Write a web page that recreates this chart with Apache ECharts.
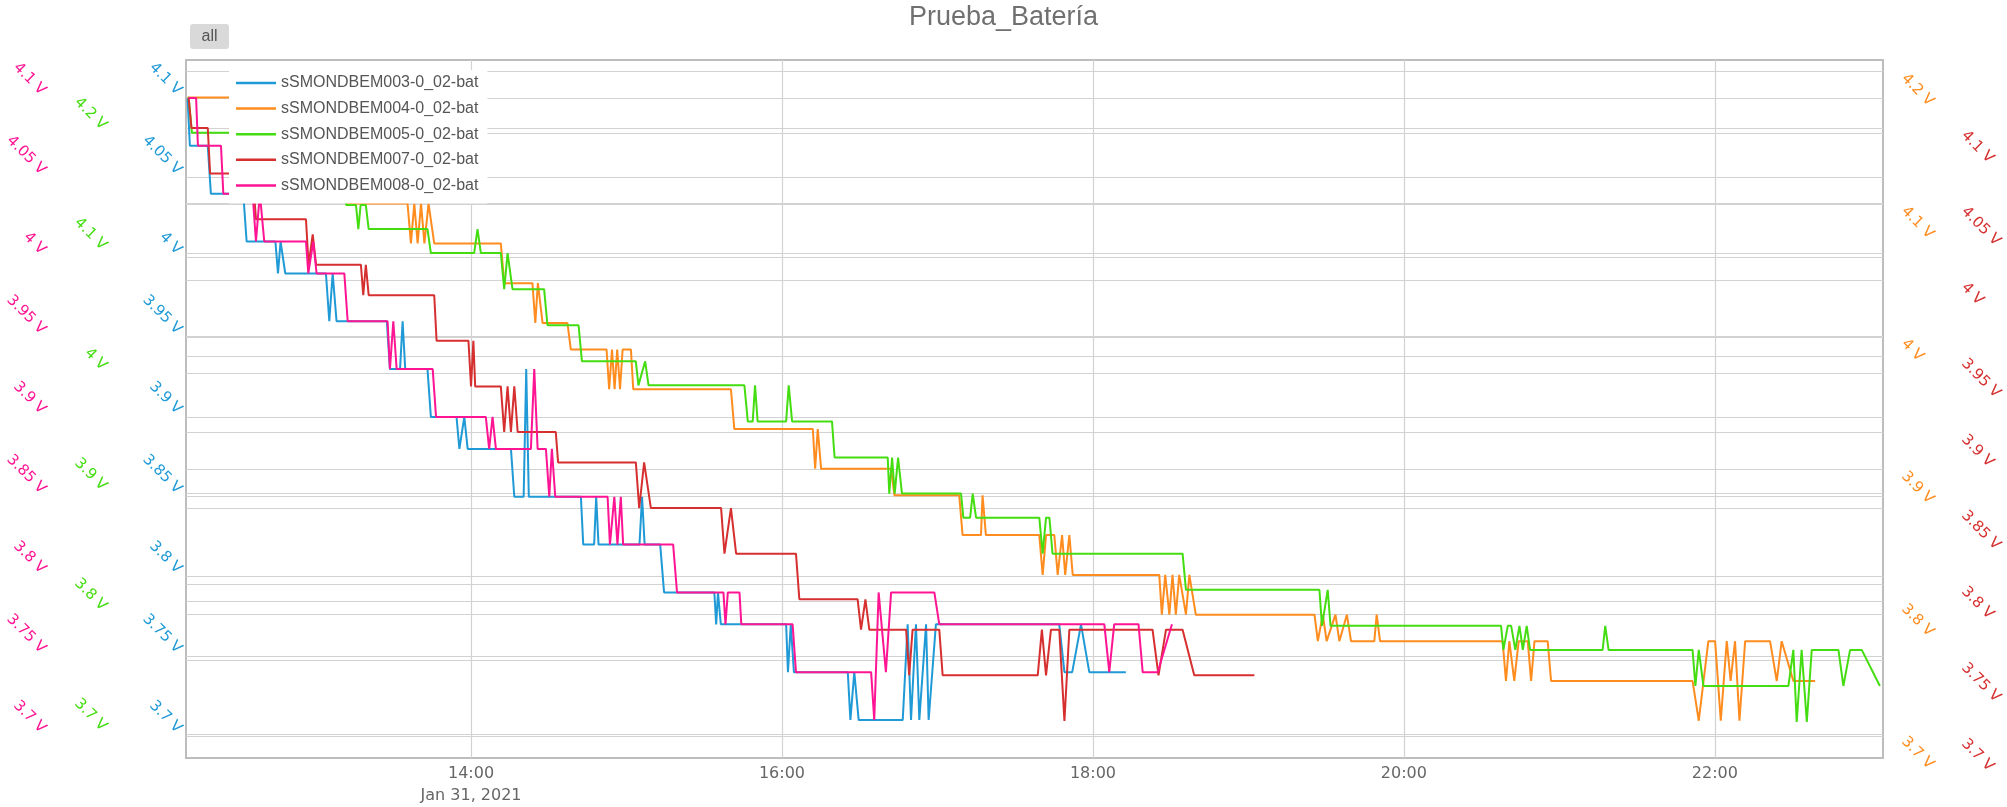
<!DOCTYPE html>
<html>
<head>
<meta charset="utf-8">
<title>Prueba_Batería</title>
<script src="https://cdn.jsdelivr.net/npm/echarts@6.0.0/dist/echarts.min.js"></script>
<style>
  html, body { margin: 0; padding: 0; background: #fff; }
  #chart { width: 2007px; height: 807px; }
</style>
</head>
<body>
<div id="chart"></div>
<script>
// time is in minutes after midnight (Jan 31, 2021), voltage in V
const names = ['sSMONDBEM003-0_02-bat', 'sSMONDBEM004-0_02-bat', 'sSMONDBEM005-0_02-bat',
               'sSMONDBEM007-0_02-bat', 'sSMONDBEM008-0_02-bat'];
const colors = ['#1f9ad6', '#ff8c1f', '#44dd11', '#d62f2f', '#ff1493'];

const bat003 = [[730.6,4.10],[731.5,4.07],[738.4,4.07],[739.6,4.04],[752.1,4.04],[753.4,4.01],[764.5,4.01],[765.5,3.99],
  [766.5,4.01],[768.3,3.99],[784.0,3.99],[785.3,3.96],[786.6,3.99],[788.1,3.96],[807.5,3.96],[808.7,3.93],[812.6,3.93],
  [813.6,3.96],[814.6,3.93],[823.2,3.93],[824.5,3.90],[834.4,3.90],[835.5,3.88],[837.4,3.90],[838.7,3.88],[855.4,3.88],
  [856.7,3.85],[860.3,3.85],[861.3,3.93],[862.3,3.85],[882.4,3.85],[883.3,3.82],[887.5,3.82],[888.3,3.85],[889.2,3.82],
  [905,3.82],[906,3.85],[907,3.82],[913,3.82],[914.5,3.79],[933.9,3.79],[934.6,3.77],[935.3,3.79],[936.4,3.77],
  [961.6,3.77],[962.3,3.74],[963.4,3.77],[964.6,3.74],[985.4,3.74],[986.4,3.71],[987.9,3.74],[989.6,3.71],[1006.6,3.71],
  [1008.5,3.77],[1009.8,3.71],[1011.7,3.77],[1013,3.71],[1015.6,3.77],[1016.6,3.71],[1019.4,3.77],[1067,3.77],[1069,3.74],
  [1072,3.74],[1075.4,3.77],[1078.6,3.74],[1092.7,3.74]];

const bat004 = [[730.6,4.18],[766,4.18],[767,4.15],[781.4,4.15],[782.5,4.12],[790.4,4.12],[791.7,4.10],[815.5,4.10],
  [816.8,4.07],[818.1,4.10],[819.4,4.07],[820.7,4.10],[822,4.07],[823.6,4.10],[825.8,4.07],[851.5,4.07],[852.8,4.04],
  [863.7,4.04],[864.8,4.01],[865.8,4.04],[867.6,4.01],[877.2,4.01],[878.5,3.99],[892.3,3.99],[893.3,3.96],[894.4,3.99],
  [895.4,3.96],[896.4,3.99],[897.5,3.96],[898.5,3.99],[901.7,3.99],[902.6,3.96],[940.3,3.96],[941.6,3.93],[971.9,3.93],
  [972.8,3.90],[973.8,3.93],[975.1,3.90],[1002.1,3.90],[1003.4,3.88],[1028.4,3.88],[1029.7,3.85],[1036.8,3.85],
  [1037.4,3.88],[1038.7,3.85],[1059.3,3.85],[1060.6,3.82],[1061.9,3.85],[1065.1,3.85],[1066.4,3.82],[1068.1,3.85],
  [1069.3,3.82],[1070.9,3.85],[1072.2,3.82],[1105.6,3.82],[1106.6,3.79],[1107.9,3.82],[1109.5,3.79],[1110.7,3.82],
  [1112,3.79],[1113.3,3.82],[1115.9,3.79],[1117.2,3.82],[1119.7,3.79],[1165.5,3.79],[1166.8,3.77],[1168.7,3.79],
  [1170.2,3.77],[1173.6,3.79],[1175.1,3.77],[1178,3.79],[1179.6,3.77],[1188.6,3.77],[1189.5,3.79],[1190.8,3.77],
  [1238.1,3.77],[1239.4,3.74],[1240.7,3.77],[1242.6,3.74],[1244.3,3.77],[1247.8,3.77],[1249.1,3.74],[1250.4,3.77],
  [1255.5,3.77],[1256.8,3.74],[1311.4,3.74],[1313.8,3.71],[1317.5,3.77],[1320.1,3.77],[1322.3,3.71],[1324.6,3.77],
  [1326.1,3.74],[1327.8,3.77],[1329.5,3.71],[1331.7,3.77],[1341.3,3.77],[1343.9,3.74],[1345.8,3.77],[1350.3,3.74],
  [1358.7,3.74]];

const bat005 = [[731,4.23],[732.3,4.20],[763.4,4.20],[764.5,4.17],[790.5,4.17],[791.8,4.14],[795.6,4.14],[796.5,4.12],
  [797.4,4.14],[799.4,4.14],[800.5,4.12],[823.2,4.12],[824.5,4.10],[841.2,4.10],[842.5,4.12],[843.8,4.10],[851.5,4.10],
  [852.8,4.07],[854.1,4.10],[856,4.07],[868.2,4.07],[869.5,4.04],[881.5,4.04],[882.8,4.01],[903.6,4.01],[904.6,3.99],
  [907.2,4.01],[908.5,3.99],[945.5,3.99],[946.8,3.96],[948.7,3.96],[949.6,3.99],[950.6,3.96],[961.6,3.96],[962.6,3.99],
  [963.9,3.96],[979.3,3.96],[980.3,3.93],[1000.8,3.93],[1001.4,3.90],[1002.5,3.93],[1003.5,3.90],[1004.8,3.93],
  [1006.3,3.90],[1029.1,3.90],[1030,3.88],[1032.6,3.88],[1033.6,3.90],[1034.9,3.88],[1059.3,3.88],[1060.6,3.85],
  [1061.9,3.88],[1063.2,3.88],[1064.4,3.85],[1114.6,3.85],[1115.9,3.82],[1167.4,3.82],[1168.4,3.79],[1170.6,3.82],
  [1171.7,3.79],[1237.5,3.79],[1238.4,3.77],[1240.1,3.79],[1241.4,3.79],[1243,3.77],[1244.6,3.79],[1245.9,3.77],
  [1247.4,3.79],[1248.7,3.77],[1276.7,3.77],[1277.7,3.79],[1279,3.77],[1311.4,3.77],[1312.5,3.74],[1313.8,3.77],
  [1315.6,3.74],[1348.4,3.74],[1350.3,3.77],[1351.6,3.71],[1353.5,3.77],[1355.5,3.71],[1357.4,3.77],[1367.7,3.77],
  [1369.6,3.74],[1372.2,3.77],[1376.7,3.77],[1383.7,3.74]];

const bat007 = [[731,4.12],[732.1,4.10],[738.4,4.10],[739.3,4.07],[755.7,4.07],[757,4.04],[776.3,4.04],[777.3,4.01],
  [778.9,4.03],[780.2,4.01],[797.5,4.01],[798.4,3.99],[799.4,4.01],[800.5,3.99],[825.8,3.99],[826.7,3.96],[839,3.96],
  [840,3.93],[840.9,3.96],[841.6,3.93],[851.5,3.93],[852.8,3.90],[854.1,3.93],[855.4,3.90],[856.7,3.93],[858,3.90],
  [872.7,3.90],[873.6,3.88],[903.6,3.88],[904.9,3.85],[906.8,3.88],[909.4,3.85],[936.5,3.85],[937.8,3.82],[940.3,3.85],
  [942.3,3.82],[965.4,3.82],[966.7,3.79],[989.2,3.79],[990.5,3.77],[992.2,3.79],[993.7,3.77],[1007.9,3.77],[1009.1,3.74],
  [1010.4,3.77],[1020.7,3.77],[1022,3.74],[1058.7,3.74],[1060.3,3.77],[1061.9,3.74],[1063.8,3.77],[1067,3.77],[1069,3.71],
  [1070.9,3.77],[1103,3.77],[1105.3,3.74],[1108.2,3.77],[1114.6,3.77],[1119.1,3.74],[1142.3,3.74]];

const bat008 = [[731,4.10],[733.9,4.10],[734.6,4.07],[743.5,4.07],[744.4,4.04],[755.7,4.04],[757,4.01],[758.5,4.04],
  [760.2,4.01],[776.3,4.01],[777.2,3.99],[779.1,4.01],[780.4,3.99],[791.1,3.99],[792.4,3.96],[807.8,3.96],[808.7,3.93],
  [810,3.96],[811.3,3.93],[825.2,3.93],[826.5,3.90],[845.7,3.90],[847,3.88],[848.3,3.90],[849.6,3.88],[863.1,3.88],
  [864.4,3.93],[865.7,3.88],[868.9,3.88],[870.2,3.85],[871.2,3.88],[872.5,3.85],[892.7,3.85],[893.6,3.82],[895.3,3.85],
  [896.5,3.82],[897.8,3.85],[898.7,3.82],[918,3.82],[919.5,3.79],[937.4,3.79],[938.2,3.77],[939.1,3.79],[943.6,3.79],
  [944.3,3.77],[964.1,3.77],[965.4,3.74],[994.4,3.74],[995.6,3.71],[997.3,3.79],[1000.1,3.74],[1002.1,3.79],[1018.8,3.79],
  [1020.7,3.77],[1084.4,3.77],[1086.3,3.74],[1088.2,3.77],[1097.6,3.77],[1099.2,3.74],[1105,3.74],[1110.5,3.77]];

const xTicks = [840, 960, 1080, 1200, 1320];
const dateLabel = 'Jan 31, 2021';
const ticksFine = [3.7, 3.75, 3.8, 3.85, 3.9, 3.95, 4.0, 4.05, 4.1];
const ticksCoarse = [3.7, 3.8, 3.9, 4.0, 4.1, 4.2];

function yAxis(pos, offset, min, max, ticks, color) {
  const left = pos === 'left';
  return {
    type: 'value', position: pos, offset: offset, min: min, max: max,
    axisLine: { show: false },
    axisTick: { show: false, customValues: ticks },
    axisLabel: {
      customValues: ticks, rotate: -45, margin: left ? 12 : 3, color: color,
      fontFamily: 'DejaVu Sans', fontSize: 15,
      align: left ? 'right' : 'left', verticalAlign: left ? 'bottom' : 'top',
      formatter: v => (+v.toFixed(2)) + ' V'
    },
    splitLine: { show: true, lineStyle: { color: '#d2d2d2', width: 1.2 } }
  };
}

const chart = echarts.init(document.getElementById('chart'));
chart.setOption({
  animation: false,
  title: {
    text: 'Prueba_Batería', left: 'center', top: -1,
    textStyle: { fontFamily: 'Liberation Sans', fontSize: 27, fontWeight: 'normal', color: '#707070' }
  },
  graphic: [
    { type: 'rect', left: 190, top: 24, shape: { width: 39, height: 25, r: 3 }, style: { fill: '#d9d9d9' } },
    { type: 'text', x: 209.5, y: 37, style: { text: 'all', align: 'center', verticalAlign: 'middle',
      fontFamily: 'Liberation Sans', fontSize: 16, fill: '#555' } }
  ],
  legend: {
    orient: 'vertical', left: 229, top: 70,
    padding: [5, 9, 10, 7], itemGap: 9.6, itemWidth: 40, itemHeight: 2.5,
    icon: 'rect', backgroundColor: '#fff',
    textStyle: { fontFamily: 'Liberation Sans', fontSize: 16, color: '#555' },
    data: names
  },
  grid: { left: 186, right: 124, top: 60, bottom: 48, show: true, borderColor: '#bdbdbd', borderWidth: 2 },
  xAxis: {
    type: 'value', min: 730, max: 1384.9,
    axisLine: { show: false },
    axisTick: { show: false, customValues: xTicks },
    axisLabel: {
      customValues: xTicks, margin: 5, lineHeight: 22, color: '#666',
      fontFamily: 'DejaVu Sans', fontSize: 16,
      formatter: v => {
        const hh = String(Math.floor(v / 60)).padStart(2, '0');
        const mm = String(Math.round(v % 60)).padStart(2, '0');
        return v === xTicks[0] ? hh + ':' + mm + '\n' + dateLabel : hh + ':' + mm;
      }
    },
    splitLine: { show: true, lineStyle: { color: '#d2d2d2', width: 1.2 } }
  },
  yAxis: [
    yAxis('left', 0, 3.6862, 4.1238, ticksFine, colors[0]),
    yAxis('right', 23, 3.6819, 4.2083, ticksCoarse, colors[1]),
    yAxis('left', 75, 3.6801, 4.2606, ticksCoarse, colors[2]),
    yAxis('right', 83, 3.6856, 4.1447, ticksFine, colors[3]),
    yAxis('left', 136, 3.6862, 4.1238, ticksFine, colors[4])
  ],
  series: [bat003, bat004, bat005, bat007, bat008].map((d, i) => ({
    name: names[i], type: 'line', yAxisIndex: i, data: d,
    showSymbol: false, symbol: 'none', color: colors[i],
    lineStyle: { width: 2, color: colors[i] }
  }))
});
</script>
</body>
</html>
